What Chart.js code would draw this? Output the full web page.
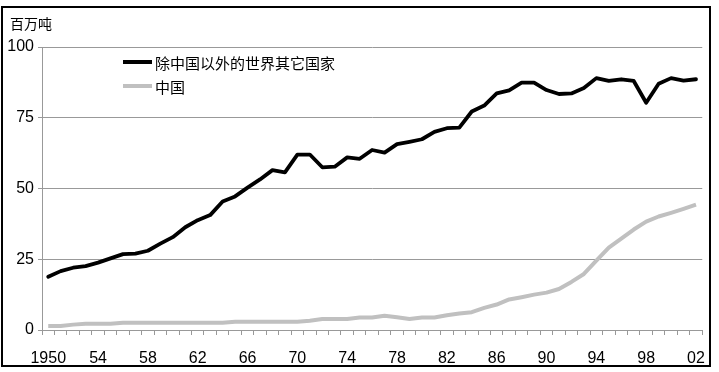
<!DOCTYPE html>
<html>
<head>
<meta charset="utf-8">
<script src="https://cdn.jsdelivr.net/npm/chart.js@4"></script>
<style>
  html, body { margin: 0; padding: 0; background: #fff; }
  canvas { display: block; }
</style>
</head>
<body>
<canvas id="c" width="719" height="372"></canvas>
<script>
const years = [
  '1950','1951','1952','1953','1954','1955','1956','1957','1958','1959',
  '1960','1961','1962','1963','1964','1965','1966','1967','1968','1969',
  '1970','1971','1972','1973','1974','1975','1976','1977','1978','1979',
  '1980','1981','1982','1983','1984','1985','1986','1987','1988','1989',
  '1990','1991','1992','1993','1994','1995','1996','1997','1998','1999',
  '2000','2001','2002'
];
const xTickLabels = ['1950','54','58','62','66','70','74','78','82','86','90','94','98','02'];
const yTicks = [0, 25, 50, 75, 100];

const restOfWorld = [
  18.8, 20.8, 22.0, 22.6, 23.8, 25.3, 26.8, 27.0, 28.0, 30.5,
  32.8, 36.3, 38.8, 40.6, 45.4, 47.2, 50.3, 53.2, 56.5, 55.7,
  62.0, 62.0, 57.5, 57.7, 61.0, 60.5, 63.6, 62.7, 65.7, 66.5,
  67.4, 70.0, 71.3, 71.5, 77.2, 79.3, 83.6, 84.7, 87.4, 87.4,
  84.8, 83.4, 83.6, 85.5, 89.0, 88.0, 88.6, 88.0, 80.3, 87.0,
  89.0, 88.1, 88.6
];
const china = [
  1.4, 1.4, 1.9, 2.2, 2.2, 2.2, 2.6, 2.6, 2.6, 2.6,
  2.6, 2.6, 2.6, 2.6, 2.6, 2.9, 2.9, 2.9, 2.9, 2.9,
  2.9, 3.3, 3.9, 3.9, 3.9, 4.4, 4.4, 5.0, 4.5, 3.9,
  4.4, 4.4, 5.2, 5.8, 6.3, 7.8, 9.0, 10.8, 11.6, 12.5,
  13.2, 14.5, 17.0, 19.8, 24.5, 29.1, 32.3, 35.5, 38.3, 40.1,
  41.4, 42.8, 44.3
];
const seriesNames = ['除中国以外的世界其它国家', '中国'];
const unitLabel = '百万吨';

const CJK = '"Noto Sans CJK SC", "Noto Sans", sans-serif';
const NUM = '"Liberation Sans", Arial, sans-serif';

const decor = {
  id: 'decor',
  afterDraw(chart) {
    const ctx = chart.ctx;
    ctx.save();
    // outer frame
    ctx.strokeStyle = '#000';
    ctx.lineWidth = 2;
    ctx.strokeRect(2, 7, 708, 359);
    // unit label
    ctx.fillStyle = '#000';
    ctx.font = '14px ' + CJK;
    ctx.textBaseline = 'middle';
    ctx.textAlign = 'left';
    ctx.fillText(unitLabel, 10, 24);
    // legend
    const items = chart.data.datasets;
    const rows = [62, 86];
    items.forEach((ds, i) => {
      const y = rows[i];
      ctx.strokeStyle = ds.borderColor;
      ctx.lineWidth = 4;
      ctx.lineCap = 'butt';
      ctx.beginPath();
      ctx.moveTo(123, y);
      ctx.lineTo(152, y);
      ctx.stroke();
      ctx.fillStyle = '#000';
      ctx.font = '15px ' + CJK;
      ctx.fillText(ds.label, 155, y + 1);
    });
    ctx.restore();
  }
};

new Chart(document.getElementById('c'), {
  type: 'line',
  data: {
    labels: years,
    datasets: [
      {
        label: seriesNames[0],
        data: restOfWorld,
        borderColor: '#000000',
        borderWidth: 3.8,
        pointRadius: 0,
        tension: 0,
        borderJoinStyle: 'round',
        borderCapStyle: 'round'
      },
      {
        label: seriesNames[1],
        data: china,
        borderColor: '#c0c0c0',
        borderWidth: 4,
        pointRadius: 0,
        tension: 0,
        borderJoinStyle: 'round',
        borderCapStyle: 'butt'
      }
    ]
  },
  options: {
    responsive: false,
    animation: false,
    events: [],
    layout: { padding: { top: 47, right: 10, bottom: 0, left: 0 } },
    plugins: {
      legend: { display: false },
      tooltip: { enabled: false },
      title: { display: false }
    },
    scales: {
      x: {
        type: 'category',
        offset: true,
        border: { display: true, color: '#999', width: 1 },
        grid: {
          offset: true,
          drawOnChartArea: false,
          drawTicks: true,
          tickLength: 5,
          color: '#999'
        },
        ticks: {
          autoSkip: false,
          maxRotation: 0,
          minRotation: 0,
          padding: 14,
          color: '#000',
          font: { family: NUM, size: 16 },
          callback: (v, i) => (i % 4 === 0 ? xTickLabels[i / 4] : '')
        },
        afterFit: (s) => { s.height = 42; }
      },
      y: {
        min: 0,
        max: 100,
        border: { display: true, color: '#999', width: 1 },
        grid: {
          color: '#999',
          tickLength: 4,
          drawTicks: true
        },
        afterBuildTicks: (s) => { s.ticks = yTicks.map(v => ({ value: v })); },
        ticks: {
          padding: 4,
          color: '#000',
          font: { family: NUM, size: 16 }
        },
        afterFit: (s) => { s.width = 42; }
      }
    }
  },
  plugins: [decor]
});
</script>
</body>
</html>
